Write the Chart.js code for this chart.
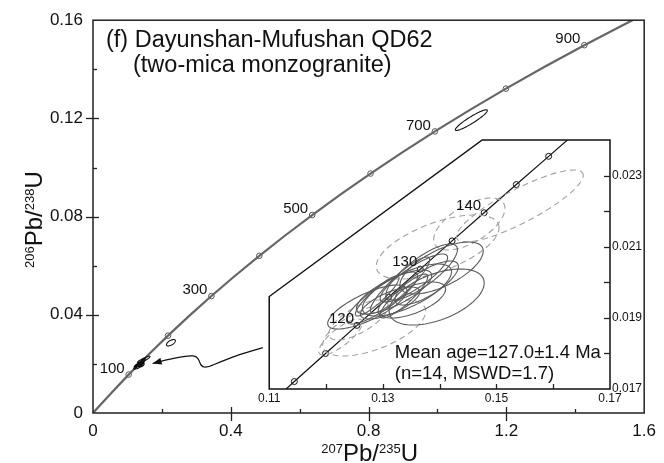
<!DOCTYPE html>
<html>
<head>
<meta charset="utf-8">
<title>Dayunshan-Mufushan QD62 concordia</title>
<script src="https://cdn.jsdelivr.net/npm/chart.js@4.4.1/dist/chart.umd.min.js"></script>
<style>
  html, body { margin: 0; padding: 0; background: #fff; }
  #wrap { position: relative; width: 664px; height: 463px; }
  #wrap canvas { position: absolute; }
  #mainChart { left: 0; top: 0; }
  #insetChart { left: 256px; top: 130px; }
</style>
</head>
<body>
<div id="wrap">
  <canvas id="mainChart" width="664" height="463"></canvas>
  <canvas id="insetChart" width="400" height="285"></canvas>
</div>
<script>
'use strict';

var FONT = "'Liberation Sans', Arial, Helvetica, sans-serif";

// concordia curve, main plot (age Ma, 207Pb/235U, 206Pb/238U)
var concAge = [0, 50, 100, 150, 200, 250, 300, 350, 400, 450, 500, 550, 600, 650, 700, 750, 800, 850, 900, 950, 1000];
var concX = [0, 0.05048, 0.10350, 0.15920, 0.21771, 0.27917, 0.34374, 0.41156, 0.48281, 0.55766, 0.63628,
             0.71888, 0.80563, 0.89677, 0.99251, 1.09309, 1.19873, 1.30972, 1.42630, 1.54877, 1.67742];
var concY = [0, 0.007786, 0.015633, 0.023542, 0.031511, 0.039543, 0.047637, 0.055794, 0.064015, 0.072300, 0.080649,
             0.089063, 0.097543, 0.106089, 0.114701, 0.123381, 0.132128, 0.140943, 0.149827, 0.158780, 0.167802];
var mainMarkAges = [100, 200, 300, 400, 500, 600, 700, 800, 900];
var mainLabelAges = [100, 300, 500, 700, 900];

// concordia curve, inset
var insetAge = [105, 110, 115, 120, 125, 130, 135, 140, 145, 150, 155];
var insetX = [0.108945, 0.114419, 0.119920, 0.125449, 0.131005, 0.136588, 0.142199, 0.147837, 0.153503, 0.159198, 0.164920];
var insetY = [0.016421, 0.017210, 0.017999, 0.018789, 0.019580, 0.020371, 0.021163, 0.021955, 0.022748, 0.023541, 0.024335];
var insetMarkAges = [110, 115, 120, 125, 130, 135, 140, 145, 150];
var insetLabelAges = [120, 130, 140];

// main axes
var xTicks = [0, 0.4, 0.8, 1.2, 1.6];
var xTickLabels = ['0', '0.4', '0.8', '1.2', '1.6'];
var xMinor = [0.2, 0.6, 1.0, 1.4];
var yTicks = [0, 0.04, 0.08, 0.12, 0.16];
var yTickLabels = ['0', '0.04', '0.08', '0.12', '0.16'];
var yMinor = [0.02, 0.06, 0.10, 0.14];

// inset axes
var insetXTicks = [0.11, 0.13, 0.15, 0.17];
var insetXTickLabels = ['0.11', '0.13', '0.15', '0.17'];
var insetXMarks = [0.12, 0.13, 0.14, 0.15, 0.16];
var insetYTicks = [0.017, 0.019, 0.021, 0.023];
var insetYTickLabels = ['0.017', '0.019', '0.021', '0.023'];
var insetYMarks = [0.018, 0.019, 0.020, 0.021, 0.022, 0.023];
var insetCutX = 0.1475;   // top edge of the inset box starts here
var insetCutY = 0.0196;   // left edge of the inset box ends here

// analyses used for the mean age (solid ellipses)
var solidX   = [0.12727, 0.12988, 0.13198, 0.13302, 0.13425, 0.13547, 0.13686, 0.13948, 0.14035, 0.13128, 0.13372, 0.13773, 0.12901, 0.13512];
var solidY   = [0.019305, 0.019558, 0.019727, 0.019924, 0.019783, 0.020120, 0.020289, 0.019586, 0.020402, 0.019418, 0.019614, 0.019980, 0.019614, 0.019502];
var solidSX  = [0.00698, 0.00628, 0.00663, 0.00523, 0.00785, 0.00593, 0.00628, 0.00837, 0.00733, 0.00523, 0.00419, 0.00558, 0.00384, 0.00593];
var solidSY  = [0.000618, 0.000731, 0.000618, 0.000787, 0.000731, 0.000675, 0.000787, 0.000787, 0.000731, 0.000450, 0.000618, 0.000618, 0.000562, 0.000506];
var solidRho = [0.75, 0.85, 0.75, 0.9, 0.7, 0.85, 0.8, 0.5, 0.65, 0.7, 0.88, 0.75, 0.9, 0.6];

// excluded analyses (dashed ellipses)
var dashX   = [0.15413, 0.13965, 0.14523, 0.12256, 0.12849, 0.12570];
var dashY   = [0.022145, 0.020992, 0.021639, 0.018462, 0.018715, 0.018940];
var dashSX  = [0.01116, 0.01081, 0.00628, 0.00384, 0.00907, 0.00523];
var dashSY  = [0.001012, 0.000900, 0.000731, 0.000506, 0.000787, 0.000562];
var dashRho = [0.85, 0.6, 0.6, 0.8, 0.6, 0.7];

// older grains, main plot only
var oldX   = [0.2262, 1.0983];
var oldY   = [0.02862, 0.1193];
var oldSX  = [0.0130, 0.0465];
var oldSY  = [0.0013, 0.0042];
var oldRho = [0.6, 0.93];

// arrow from inset to the cluster (main plot coordinates)
var arrowX = [0.4929, 0.4238, 0.3719, 0.3315, 0.3142, 0.3084, 0.2998, 0.2796, 0.2450, 0.2104, 0.1730];
var arrowY = [0.02660, 0.02378, 0.02096, 0.01854, 0.01894, 0.02136, 0.02318, 0.02338, 0.02257, 0.02156, 0.02015];

Chart.defaults.font.family = FONT;
Chart.defaults.color = '#111';

function pts(xs, ys) {
    return xs.map(function (x, i) { return { x: x, y: ys[i] }; });
}
function pick(ages, allAges, xs, ys) {
    return ages.map(function (a) {
        var i = allAges.indexOf(a);
        return { x: xs[i], y: ys[i], age: a };
    });
}

function ellipsePlugin(id, groups) {
    return {
        id: id,
        afterDatasetsDraw: function (chart) {
            var ctx = chart.ctx, xs = chart.scales.x, ys = chart.scales.y, a = chart.chartArea;
            ctx.save();
            ctx.beginPath();
            ctx.rect(a.left, a.top, a.right - a.left, a.bottom - a.top);
            ctx.clip();
            groups.forEach(function (g) {
                ctx.strokeStyle = g.color;
                ctx.lineWidth = g.width;
                ctx.setLineDash(g.dash || []);
                g.x.forEach(function (cx, k) {
                    var cy = g.y[k], sx = g.sx[k], sy = g.sy[k], r = g.rho[k];
                    var q = Math.sqrt(1 - r * r);
                    ctx.beginPath();
                    for (var i = 0; i <= 90; i++) {
                        var t = i / 90 * 2 * Math.PI;
                        var px = xs.getPixelForValue(cx + sx * Math.cos(t));
                        var py = ys.getPixelForValue(cy + sy * (r * Math.cos(t) + q * Math.sin(t)));
                        if (i === 0) { ctx.moveTo(px, py); } else { ctx.lineTo(px, py); }
                    }
                    ctx.closePath();
                    ctx.stroke();
                });
            });
            ctx.restore();
        }
    };
}

function tickPlugin(id, specs) {
    return {
        id: id,
        afterDraw: function (chart) {
            var ctx = chart.ctx, a = chart.chartArea;
            ctx.save();
            ctx.strokeStyle = '#222';
            ctx.lineWidth = 1.3;
            specs.forEach(function (s) {
                var sc = chart.scales[s.axis];
                s.values.forEach(function (v) {
                    var p = Math.round(sc.getPixelForValue(v)) + 0.5;
                    ctx.beginPath();
                    if (s.edge === 'bottom') {
                        ctx.moveTo(p, a.bottom - s.inner); ctx.lineTo(p, a.bottom + s.outer);
                    } else if (s.edge === 'left') {
                        ctx.moveTo(a.left - s.outer, p); ctx.lineTo(a.left + s.inner, p);
                    } else {
                        ctx.moveTo(a.right - s.inner, p); ctx.lineTo(a.right + s.outer, p);
                    }
                    ctx.stroke();
                });
            });
            ctx.restore();
        }
    };
}

function supLabel(ctx, parts, cx, base) {
    var big = '24px ' + FONT, small = '13px ' + FONT, total = 0;
    parts.forEach(function (p) { ctx.font = p[1] ? small : big; total += ctx.measureText(p[0]).width; });
    var x = cx - total / 2;
    ctx.textAlign = 'left';
    ctx.textBaseline = 'alphabetic';
    parts.forEach(function (p) {
        ctx.font = p[1] ? small : big;
        ctx.fillText(p[0], x, p[1] ? base - 8 : base);
        x += ctx.measureText(p[0]).width;
    });
}

function ageLabels(chart, marks, labels, dx, dy) {
    var ctx = chart.ctx, xs = chart.scales.x, ys = chart.scales.y;
    ctx.save();
    ctx.font = '15px ' + FONT;
    ctx.fillStyle = '#111';
    ctx.textAlign = 'right';
    ctx.textBaseline = 'middle';
    marks.forEach(function (m) {
        if (labels.indexOf(m.age) < 0) { return; }
        ctx.fillText(String(m.age), xs.getPixelForValue(m.x) + dx, ys.getPixelForValue(m.y) + dy);
    });
    ctx.restore();
}

var mainMarks = pick(mainMarkAges, concAge, concX, concY);
var insetMarks = pick(insetMarkAges, insetAge, insetX, insetY);

var mainDecor = {
    id: 'mainDecor',
    afterDraw: function (chart) {
        var ctx = chart.ctx, a = chart.chartArea, xs = chart.scales.x, ys = chart.scales.y;
        ctx.save();
        // frame
        ctx.strokeStyle = '#222';
        ctx.lineWidth = 1.5;
        ctx.strokeRect(a.left, a.top, a.right - a.left, a.bottom - a.top);

        // arrow
        var p = arrowX.map(function (x, i) { return [xs.getPixelForValue(x), ys.getPixelForValue(arrowY[i])]; });
        ctx.strokeStyle = '#111';
        ctx.lineWidth = 1.2;
        ctx.beginPath();
        ctx.moveTo(p[0][0], p[0][1]);
        for (var i = 1; i < p.length - 1; i++) {
            ctx.quadraticCurveTo(p[i][0], p[i][1], (p[i][0] + p[i + 1][0]) / 2, (p[i][1] + p[i + 1][1]) / 2);
        }
        var tip = p[p.length - 1], prev = p[p.length - 2];
        ctx.lineTo(tip[0], tip[1]);
        ctx.stroke();
        var ang = Math.atan2(tip[1] - prev[1], tip[0] - prev[0]);
        ctx.fillStyle = '#111';
        ctx.beginPath();
        ctx.moveTo(tip[0], tip[1]);
        ctx.lineTo(tip[0] - 9 * Math.cos(ang) + 3.5 * Math.sin(ang), tip[1] - 9 * Math.sin(ang) - 3.5 * Math.cos(ang));
        ctx.lineTo(tip[0] - 9 * Math.cos(ang) - 3.5 * Math.sin(ang), tip[1] - 9 * Math.sin(ang) + 3.5 * Math.cos(ang));
        ctx.closePath();
        ctx.fill();

        // title
        ctx.fillStyle = '#111';
        ctx.textAlign = 'left';
        ctx.textBaseline = 'alphabetic';
        ctx.font = '23.5px ' + FONT;
        ctx.fillText('(f) Dayunshan-Mufushan QD62', a.left + 13, 47);
        ctx.fillText('(two-mica monzogranite)', a.left + 40, 72);

        // axis titles
        supLabel(ctx, [['207', true], ['Pb/', false], ['235', true], ['U', false]], (a.left + a.right) / 2 + 1, 461);
        ctx.save();
        ctx.translate(42, (a.top + a.bottom) / 2 + 3);
        ctx.rotate(-Math.PI / 2);
        supLabel(ctx, [['206', true], ['Pb/', false], ['238', true], ['U', false]], 0, 0);
        ctx.restore();
        ctx.restore();

        ageLabels(chart, mainMarks, mainLabelAges, -4, -6);
    }
};

function insetShape(chart) {
    var xs = chart.scales.x, ys = chart.scales.y;
    var c = [[0.11, 0.017], [0.17, 0.017], [0.17, 0.024], [insetCutX, 0.024], [0.11, insetCutY]];
    chart.ctx.beginPath();
    c.forEach(function (q, i) {
        var px = xs.getPixelForValue(q[0]), py = ys.getPixelForValue(q[1]);
        if (i === 0) { chart.ctx.moveTo(px, py); } else { chart.ctx.lineTo(px, py); }
    });
    chart.ctx.closePath();
}

var insetDecor = {
    id: 'insetDecor',
    beforeDatasetsDraw: function (chart) {
        var ctx = chart.ctx;
        ctx.save();
        insetShape(chart);
        ctx.fillStyle = '#fff';
        ctx.fill();
        ctx.restore();
    },
    afterDraw: function (chart) {
        var ctx = chart.ctx, xs = chart.scales.x, ys = chart.scales.y;
        ctx.save();
        insetShape(chart);
        ctx.strokeStyle = '#111';
        ctx.lineWidth = 1.5;
        ctx.stroke();

        ctx.fillStyle = '#111';
        ctx.font = '18.5px ' + FONT;
        ctx.textAlign = 'left';
        ctx.textBaseline = 'alphabetic';
        ctx.fillText('Mean age=127.0\u00b11.4 Ma', xs.getPixelForValue(0.1321), ys.getPixelForValue(0.01788));
        ctx.fillText('(n=14, MSWD=1.7)', xs.getPixelForValue(0.1321), ys.getPixelForValue(0.01728));
        ctx.restore();

        ageLabels(chart, insetMarks, insetLabelAges, -3, -7);
    }
};

function fixedTicks(values) {
    return function (scale) {
        scale.ticks = values.map(function (v) { return { value: v }; });
    };
}
function tickText(labels, size) {
    return {
        autoSkip: false, maxRotation: 0, color: '#111',
        font: { size: size },
        callback: function (v, i) { return labels[i]; }
    };
}

var mainChart = new Chart(document.getElementById('mainChart'), {
    type: 'scatter',
    data: {
        datasets: [
            {
                data: pts(concX, concY),
                showLine: true,
                borderColor: '#666',
                borderWidth: 2.2,
                pointRadius: 0
            },
            {
                data: mainMarks,
                pointRadius: 2.8,
                pointBackgroundColor: '#fff',
                pointBorderColor: '#555',
                pointBorderWidth: 1,
                clip: false
            }
        ]
    },
    options: {
        responsive: false,
        animation: false,
        events: [],
        layout: { padding: { left: 0, right: 16, top: 16, bottom: 0 } },
        plugins: { legend: { display: false }, tooltip: { enabled: false } },
        scales: {
            x: {
                type: 'linear', min: 0, max: 1.6,
                grid: { display: false, drawTicks: false },
                border: { display: false },
                ticks: Object.assign(tickText(xTickLabels, 17), { padding: 8 }),
                afterBuildTicks: fixedTicks(xTicks),
                afterFit: function (s) { s.height = 50; }
            },
            y: {
                type: 'linear', min: 0, max: 0.16,
                grid: { display: false, drawTicks: false },
                border: { display: false },
                ticks: Object.assign(tickText(yTickLabels, 17), { padding: 10 }),
                afterBuildTicks: fixedTicks(yTicks),
                afterFit: function (s) { s.width = 93; }
            }
        }
    },
    plugins: [
        ellipsePlugin('mainEllipses', [
            { x: solidX, y: solidY, sx: solidSX, sy: solidSY, rho: solidRho, color: '#000', width: 1.5 },
            { x: dashX, y: dashY, sx: dashSX, sy: dashSY, rho: dashRho, color: '#111', width: 1.1 },
            { x: oldX, y: oldY, sx: oldSX, sy: oldSY, rho: oldRho, color: '#111', width: 1.1 }
        ]),
        tickPlugin('mainTicks', [
            { axis: 'x', edge: 'bottom', values: xTicks.slice(1, -1), inner: 6, outer: 8 },
            { axis: 'x', edge: 'bottom', values: xMinor, inner: 4, outer: 0 },
            { axis: 'y', edge: 'left', values: yTicks.slice(1, -1), inner: 6, outer: 7 },
            { axis: 'y', edge: 'left', values: yMinor, inner: 4, outer: 0 }
        ]),
        mainDecor
    ]
});

var insetChart = new Chart(document.getElementById('insetChart'), {
    type: 'scatter',
    data: {
        datasets: [
            {
                data: pts(insetX, insetY),
                showLine: true,
                borderColor: '#111',
                borderWidth: 1.2,
                pointRadius: 0
            },
            {
                data: insetMarks,
                pointRadius: 3,
                pointBackgroundColor: '#fff',
                pointBorderColor: '#111',
                pointBorderWidth: 1
            }
        ]
    },
    options: {
        responsive: false,
        animation: false,
        events: [],
        layout: { padding: { left: 10, right: 0, top: 10, bottom: 0 } },
        plugins: { legend: { display: false }, tooltip: { enabled: false } },
        scales: {
            x: {
                type: 'linear', min: 0.11, max: 0.17,
                grid: { display: false, drawTicks: false },
                border: { display: false },
                ticks: Object.assign(tickText(insetXTickLabels, 12), { padding: 2 }),
                afterBuildTicks: fixedTicks(insetXTicks),
                afterFit: function (s) { s.height = 26; }
            },
            y: {
                type: 'linear', position: 'right', min: 0.017, max: 0.024,
                grid: { display: false, drawTicks: false },
                border: { display: false },
                ticks: Object.assign(tickText(insetYTickLabels, 12), { padding: 2 }),
                afterBuildTicks: fixedTicks(insetYTicks),
                afterFit: function (s) { s.width = 46; }
            }
        }
    },
    plugins: [
        insetDecor,
        ellipsePlugin('insetEllipses', [
            { x: dashX, y: dashY, sx: dashSX, sy: dashSY, rho: dashRho, color: '#a0a0a0', width: 1.1, dash: [6, 4] },
            { x: solidX, y: solidY, sx: solidSX, sy: solidSY, rho: solidRho, color: '#5a5a5a', width: 1.1 }
        ]),
        tickPlugin('insetTicks', [
            { axis: 'x', edge: 'bottom', values: insetXMarks, inner: 5, outer: 0 },
            { axis: 'y', edge: 'right', values: insetYMarks, inner: 6, outer: 0 }
        ])
    ]
});
</script>
</body>
</html>
